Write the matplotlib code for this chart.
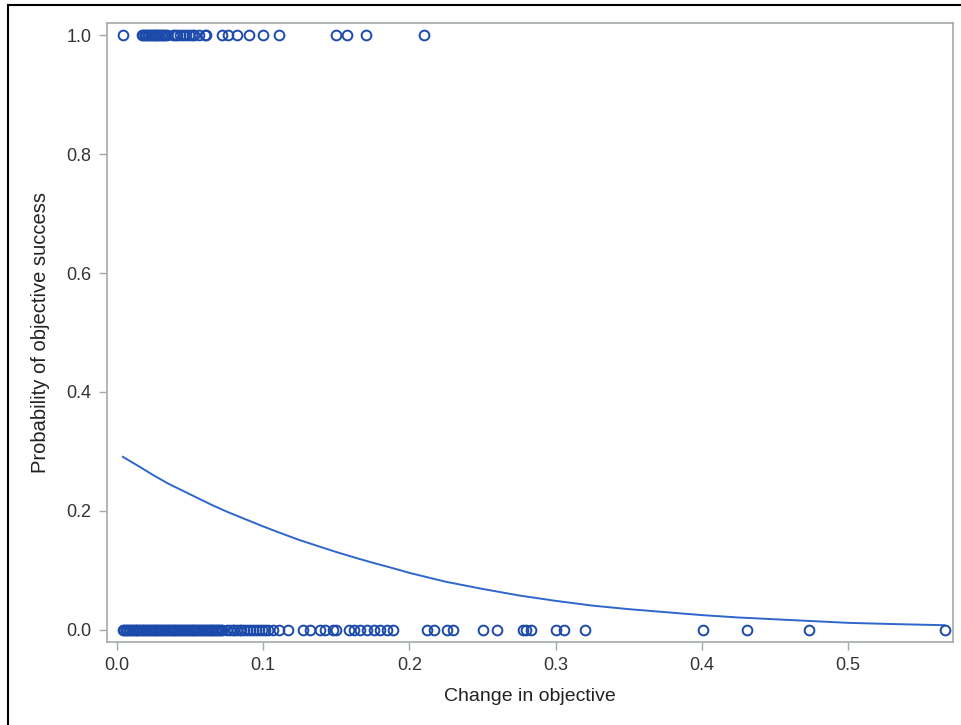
import matplotlib
matplotlib.use("Agg")
import matplotlib.pyplot as plt
from matplotlib.lines import Line2D

plt.rcParams['font.family'] = ['Liberation Sans', 'DejaVu Sans']

# Observations with outcome = 1 (success)
success_x = [0.004, 0.017, 0.018, 0.019, 0.020, 0.021, 0.022, 0.023, 0.024, 0.025,
             0.026, 0.027, 0.028, 0.029, 0.030, 0.031, 0.032, 0.033, 0.034,
             0.038, 0.040, 0.041, 0.043, 0.045, 0.047, 0.049, 0.051, 0.053, 0.056,
             0.060, 0.061, 0.072, 0.076, 0.082, 0.090, 0.100, 0.111,
             0.150, 0.157, 0.170, 0.210]

# Observations with outcome = 0 (failure)
failure_x = [0.004, 0.005, 0.006, 0.007, 0.008, 0.009, 0.010, 0.011, 0.012, 0.013,
             0.014, 0.015, 0.016, 0.017, 0.018, 0.019, 0.020, 0.021, 0.022, 0.023,
             0.024, 0.025, 0.026, 0.027, 0.028, 0.029, 0.030, 0.031, 0.032, 0.033,
             0.034, 0.035, 0.036, 0.037, 0.038, 0.039, 0.040, 0.041, 0.042, 0.043,
             0.044, 0.045, 0.046, 0.047, 0.048, 0.049, 0.050, 0.051, 0.052, 0.053,
             0.054, 0.055, 0.056, 0.057, 0.058, 0.059, 0.060, 0.061, 0.062, 0.063,
             0.064, 0.065, 0.066, 0.067, 0.068, 0.069, 0.070, 0.071, 0.072,
             0.075, 0.077, 0.079, 0.080, 0.082, 0.084, 0.085, 0.087, 0.089, 0.091,
             0.093, 0.095, 0.097, 0.099, 0.101, 0.103, 0.107, 0.111, 0.117,
             0.127, 0.132, 0.139, 0.142, 0.148, 0.150, 0.159, 0.162, 0.166, 0.171,
             0.176, 0.180, 0.185, 0.189,
             0.212, 0.217, 0.226, 0.230, 0.250, 0.260, 0.278, 0.280, 0.283,
             0.300, 0.306, 0.320, 0.401, 0.431, 0.473, 0.566]

# Fitted probability curve
curve_x = [0.004, 0.015, 0.025, 0.035, 0.050, 0.065, 0.075, 0.090, 0.100, 0.115,
           0.125, 0.140, 0.150, 0.165, 0.175, 0.190, 0.200, 0.225, 0.250, 0.275,
           0.300, 0.325, 0.350, 0.375, 0.400, 0.425, 0.450, 0.475, 0.500, 0.530,
           0.566]
curve_p = [0.291, 0.275, 0.260, 0.246, 0.228, 0.210, 0.199, 0.184, 0.174, 0.160,
           0.151, 0.139, 0.131, 0.120, 0.113, 0.103, 0.096, 0.081, 0.069, 0.058,
           0.049, 0.041, 0.035, 0.030, 0.025, 0.021, 0.018, 0.015, 0.012, 0.010,
           0.008]

x_ticks = [0.0, 0.1, 0.2, 0.3, 0.4, 0.5]
y_ticks = [0.0, 0.2, 0.4, 0.6, 0.8, 1.0]

marker_color = '#1c4aab'
line_color = '#2e66cc'
frame_color = '#a3aaaa'

fig = plt.figure(figsize=(9.61, 7.25), dpi=100)
ax = fig.add_axes([107/961, 1-642/725, (953-107)/961, (642-23)/725])

ax.plot(curve_x, curve_p, color=line_color, lw=1.4, zorder=2)
ax.plot(success_x, [1.0]*len(success_x), linestyle='none', marker='o',
        markersize=7.0, markerfacecolor='none', markeredgecolor=marker_color,
        markeredgewidth=1.4, zorder=3)
ax.plot(failure_x, [0.0]*len(failure_x), linestyle='none', marker='o',
        markersize=7.0, markerfacecolor='none', markeredgecolor=marker_color,
        markeredgewidth=1.4, zorder=3)

ax.set_xlim(-0.00684, 0.5718)
ax.set_ylim(-0.0202, 1.0202)
ax.set_xticks(x_ticks)
ax.set_yticks(y_ticks)
ax.set_xticklabels([f"{v:.1f}" for v in x_ticks])
ax.set_yticklabels([f"{v:.1f}" for v in y_ticks])

for s in ax.spines.values():
    s.set_color(frame_color)
    s.set_linewidth(1.2)
ax.tick_params(axis='both', colors=frame_color, length=6, width=1.0,
               labelcolor='#333333', labelsize=13, pad=5)

ax.set_xlabel("Change in objective", fontsize=14, color='#222222', labelpad=10)
ax.set_ylabel("Probability of objective success", fontsize=14.5, color='#222222', labelpad=12)

# Outer frame lines (left and top)
fig.add_artist(Line2D([8/961, 8/961], [0, 1-5/725], transform=fig.transFigure,
                      color='black', lw=1.5))
fig.add_artist(Line2D([8/961, 1], [1-5/725, 1-5/725], transform=fig.transFigure,
                      color='black', lw=1.5))

fig.savefig("out.png", dpi=100)
